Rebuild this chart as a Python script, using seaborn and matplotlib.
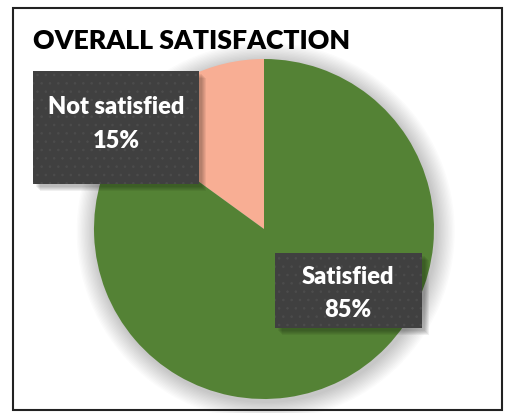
import matplotlib
matplotlib.use('Agg')
import matplotlib.pyplot as plt
import seaborn as sns
from matplotlib.patches import Rectangle, Circle

# Datos
categorias = ['Not satisfied', 'Satisfied']
valores = [15, 85]
colores = ['#F8AE94', '#548235']

W, H = 506, 414

sns.set_theme(style='white')
plt.rcParams['font.family'] = ['Lato', 'DejaVu Sans']
plt.rcParams['hatch.linewidth'] = 0.6

fig = plt.figure(figsize=(W / 100, H / 100), dpi=100)
fig.patch.set_facecolor('white')


def px_rect(x0, y0, x1, y1, **kw):
    """Rectángulo en píxeles de la figura (origen arriba a la izquierda)."""
    r = Rectangle((x0 / W, 1 - y1 / H), (x1 - x0) / W, (y1 - y0) / H,
                  transform=fig.transFigure, **kw)
    fig.add_artist(r)
    return r


# Marco exterior
px_rect(13, 9, 502, 411, facecolor='none', edgecolor='#222222', linewidth=1.5, zorder=1)

# Ejes del pastel: centro (264, 230), radio 170 px
cx, cy, rad = 264, 230, 170
ax = fig.add_axes([(cx - rad) / W, 1 - (cy + rad) / H, 2 * rad / W, 2 * rad / H])

# Sombra suave
for i in range(14):
    r = 1.0 + 0.008 * (i + 1)
    ax.add_patch(Circle((0.01, -0.015), r, facecolor='#000000', alpha=0.016,
                        edgecolor='none', zorder=0, clip_on=False))

ax.pie(valores, colors=colores, startangle=90, counterclock=True,
       radius=1.0, wedgeprops=dict(edgecolor='none'), frame=False)
ax.set_xlim(-1, 1)
ax.set_ylim(-1, 1)
ax.set_aspect('equal')
ax.axis('off')

# Cajas de etiquetas
cajas = [(33, 72, 199, 185, 116, 107, 141), (275, 254, 422, 329, 348, 277, 310)]
for (x0, y0, x1, y1, tx, ty1, ty2), cat, val in zip(cajas, categorias, valores):
    for k in range(5):
        d = 3 + k
        px_rect(x0 + d, y0 + d, x1 + d, y1 + d, facecolor='#000000', alpha=0.06,
                edgecolor='none', zorder=4)
    px_rect(x0, y0, x1, y1, facecolor='#404040', edgecolor='#4c4c4c',
            linewidth=0, hatch='..', zorder=5)
    fig.text(tx / W, 1 - ty1 / H, cat, ha='center', va='center', color='white',
             fontsize=17, fontweight='heavy', zorder=6)
    fig.text(tx / W, 1 - ty2 / H, f'{val}%', ha='center', va='center', color='white',
             fontsize=17, fontweight='heavy', zorder=6)

# Título
fig.text(33 / W, 1 - 41 / H, 'OVERALL SATISFACTION', ha='left', va='center',
         fontsize=19.2, fontweight='heavy', color='black')

fig.savefig('out.png', dpi=100, facecolor='white')
plt.close(fig)
